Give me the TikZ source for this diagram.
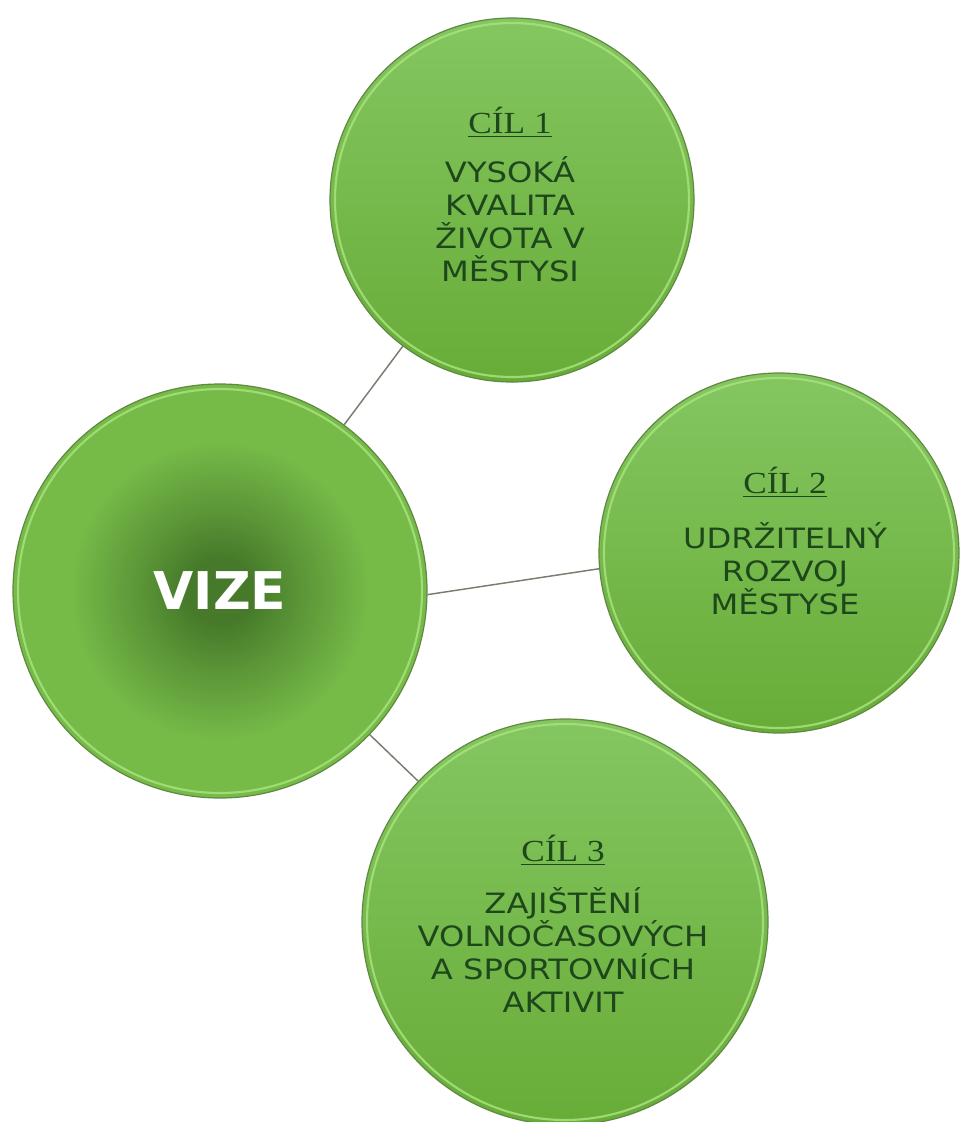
\documentclass[tikz,border=0pt]{standalone}
\usepackage{fontspec}
\setmainfont{DejaVu Sans}
\newfontfamily\goalfont[FakeStretch=1.15]{DejaVu Sans}
\newfontfamily\headfont[FakeStretch=1.15]{Liberation Serif}
\definecolor{topgreen}{RGB}{132,198,96}
\definecolor{botgreen}{RGB}{104,172,56}
\definecolor{midgreen}{RGB}{118,186,72}
\definecolor{edgegreen}{RGB}{96,136,66}
\definecolor{rimgreen}{RGB}{168,226,126}
\definecolor{coregreen}{RGB}{70,122,42}
\definecolor{textgreen}{RGB}{30,72,28}
\definecolor{linkgray}{RGB}{118,126,110}
\pgfdeclareradialshading{vizecore}{\pgfpoint{0bp}{0bp}}{color(0bp)=(coregreen); color(4bp)=(coregreen); color(10bp)=(coregreen!55!midgreen); color(18bp)=(midgreen); color(50bp)=(midgreen)}
\def\goalhead#1{{\headfont\fontsize{23}{24.75}\selectfont\underline{CÍL #1}}}

\begin{document}
\begin{tikzpicture}[x=0.75pt,y=-0.75pt,
	disc/.style={circle, draw=edgegreen, line width=0.9pt, top color=topgreen, bottom color=botgreen, inner sep=0pt},
	goaltext/.style={text=textgreen, align=center, font=\goalfont\fontsize{21}{24.75}\selectfont},
	rim/.style={draw=rimgreen, line width=1.6pt, opacity=0.85},
	link/.style={draw=linkgray, line width=1.1pt}]
	%%%%% START %%%%%
	\def\rvize{207}
	\def\rone{182}
	\def\rtwo{180}
	\def\rthree{203}

	\useasboundingbox (0,0) rectangle (960,1122);

	\node[disc, shading=vizecore, minimum size={2*\rvize*0.75pt}, text=white, font=\bfseries\fontsize{39}{40}\selectfont]
		(vize) at (220,591) {VIZE};
	\node[disc, minimum size={2*\rone*0.75pt}] (goal1) at (512,200) {};
	\node[disc, minimum size={2*\rtwo*0.75pt}] (goal2) at (779,553) {};
	\node[disc, minimum size={2*\rthree*0.75pt}] (goal3) at (565,922) {};

	% light inner rims
	\draw[rim] (vize.center) circle[radius={(\rvize-5)*0.75pt}];
	\draw[rim] (goal1.center) circle[radius={(\rone-5)*0.75pt}];
	\draw[rim] (goal2.center) circle[radius={(\rtwo-5)*0.75pt}];
	\draw[rim] (goal3.center) circle[radius={(\rthree-5)*0.75pt}];

	\node[goaltext] (text1) at (510,195)
		{\goalhead{1}\\[12pt] VYSOKÁ\\ KVALITA\\ ŽIVOTA V\\ MĚSTYSI};
	\node[goaltext] (text2) at (785,541)
		{\goalhead{2}\\[16pt] UDRŽITELNÝ\\ ROZVOJ\\ MĚSTYSE};
	\node[goaltext] (text3) at (563,924)
		{\goalhead{3}\\[14pt] ZAJIŠTĚNÍ\\ VOLNOČASOVÝCH\\ A SPORTOVNÍCH\\ AKTIVIT};

	\draw[link] (vize) -- (goal1);
	\draw[link] (vize.-1) -- (goal2.185);
	\draw[link] (vize) -- (goal3);
	%%%%% START %%%%%
\end{tikzpicture}
\end{document}
